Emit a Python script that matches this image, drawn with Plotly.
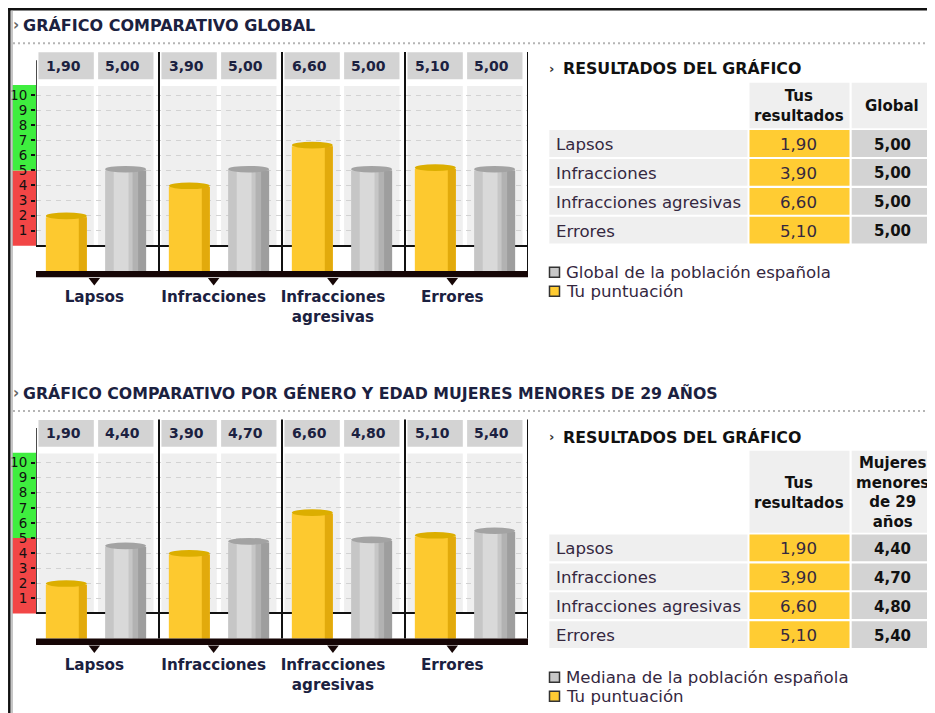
import plotly.graph_objects as go

W, H = 935, 713
FONT = "DejaVu Sans"
PAGE = 8  # the page body margin the figure is placed at

# ---------------- data ----------------
categories = ["Lapsos", "Infracciones", "Infracciones agresivas", "Errores"]
tus_puntuacion = [1.90, 3.90, 6.60, 5.10]
global_poblacion = [5.00, 5.00, 5.00, 5.00]
mediana_mujeres = [4.40, 4.70, 4.80, 5.40]
y_ticks = [1, 2, 3, 4, 5, 6, 7, 8, 9, 10]

chart_titles = ["GRÁFICO COMPARATIVO GLOBAL",
                "GRÁFICO COMPARATIVO POR GÉNERO Y EDAD MUJERES MENORES DE 29 AÑOS"]
table_title = "RESULTADOS DEL GRÁFICO"
table_headers = [["", "Tus<br>resultados", "Global"],
                 ["", "Tus<br>resultados", "Mujeres<br>menores<br>de 29<br>años"]]
legend_labels = [["Global de la población española", "Tu puntuación"],
                 ["Mediana de la población española", "Tu puntuación"]]
comparisons = [global_poblacion, mediana_mujeres]

# ---------------- style / geometry ----------------
NAVY = "#1b2140"
TXT = "#35283f"
YEL, YEL_D, YEL_TOP = "#fdc92f", "#e2aa0c", "#dcae00"
GRY, GRY_D, GRY_L, GRY_TOP = "#c6c6c6", "#9e9e9e", "#d9d9d9", "#a3a3a3"
S = 15.08                    # px per unit
ZERO_PX = [245.8, 613.4]     # pixel row of value 0 in each chart
YR = [-2.6, 13.0]
BASE = -1.67
BW = 0.333
OFF_Y, OFF_G = -0.42, 0.062
PX_L, PX_R = 36, 528
TCOLS = [(549.3, 747.5), (749.5, 849.5), (851.7, 955)]
THEAD = [(82.7, 128.3), (450.7, 532.7)]
ROW_PITCH, ROW_H = 28.9, 26.8


def fx(p):
    return (p - PAGE) / W


def fy(p):
    return 1 - (p - PAGE) / H


def fmt(v):
    return f"{v:.2f}".replace(".", ",")


def bold_lines(h):
    return "<br>".join(f"<b>{p}</b>" for p in h.split("<br>"))


fig = go.Figure()
shapes, annotations = [], []
tick_labels = [c.replace(" ", "<br>") for c in categories]

for k in range(2):
    xa = "x" if k == 0 else "x2"
    ya = "y" if k == 0 else "y2"
    xl = "x3" if k == 0 else "x4"
    comp = comparisons[k]
    z = ZERO_PX[k]
    off = 367.6 * k

    # --- bars (cylinders) ---
    for vals, o, main, dark, top, light in [
        (tus_puntuacion, OFF_Y, YEL, YEL_D, YEL_TOP, None),
        (comp, OFF_G, GRY, GRY_D, GRY_TOP, GRY_L),
    ]:
        fig.add_trace(go.Bar(x=categories, y=[v - BASE for v in vals], base=BASE,
                             offset=o, width=BW, marker=dict(color=main, line=dict(width=0)),
                             xaxis=xa, yaxis=ya, showlegend=False, hoverinfo="skip"))
        if light:
            fig.add_trace(go.Bar(x=categories, y=[v - BASE for v in vals], base=BASE,
                                 offset=o + 0.07, width=0.12, marker=dict(color=light, line=dict(width=0)),
                                 xaxis=xa, yaxis=ya, showlegend=False, hoverinfo="skip"))
            fig.add_trace(go.Bar(x=categories, y=[v - BASE for v in vals], base=BASE,
                                 offset=o + BW - 0.11, width=0.05, marker=dict(color="#b2b2b2", line=dict(width=0)),
                                 xaxis=xa, yaxis=ya, showlegend=False, hoverinfo="skip"))
        fig.add_trace(go.Bar(x=categories, y=[v - BASE for v in vals], base=BASE,
                             offset=o + BW - 0.065, width=0.065, marker=dict(color=dark, line=dict(width=0)),
                             xaxis=xa, yaxis=ya, showlegend=False, hoverinfo="skip"))
        for i, v in enumerate(vals):
            shapes.append(dict(type="circle", xref=xa, yref=ya, x0=i + o, x1=i + o + BW,
                               y0=v - 0.14, y1=v + 0.3, fillcolor=top, line=dict(width=0), layer="above"))

    # --- background panels and value boxes ---
    for i in range(len(categories)):
        for (a, b), vals in [((-0.48, -0.03), tus_puntuacion), ((0.005, 0.455), comp)]:
            shapes.append(dict(type="rect", xref=xa, yref=ya, x0=i + a, x1=i + b, y0=0, y1=10.6,
                               fillcolor="#efefef", line=dict(width=0), layer="below"))
            shapes.append(dict(type="rect", xref=xa, yref=ya, x0=i + a, x1=i + b, y0=11.05, y1=12.83,
                               fillcolor="#d3d3d3", line=dict(width=0), layer="below"))
            annotations.append(dict(xref=xa, yref=ya, x=i + (a + b) / 2, y=11.94, xshift=-3,
                                    text=f"<b>{fmt(vals[i])}</b>", showarrow=False,
                                    font=dict(family=FONT, size=14, color=NAVY)))
    # separators
    for sx in [0.5, 1.5, 2.5, 3.5]:
        shapes.append(dict(type="line", xref=xa, yref=ya, x0=sx, x1=sx, y0=BASE, y1=12.85,
                           line=dict(color="#111", width=2), layer="above"))
    shapes.append(dict(type="line", xref=xa, yref=ya, x0=-0.5, x1=-0.5, y0=0, y1=12.3,
                       line=dict(color="#111", width=1.5), layer="above"))
    # base plate
    shapes.append(dict(type="rect", xref=xa, yref=ya, x0=-0.5, x1=3.5, y0=BASE - 0.42, y1=BASE,
                       fillcolor="#160606", line=dict(width=0), layer="above"))
    # red / green scale strip
    shapes.append(dict(type="rect", xref="paper", yref=ya, x0=fx(12.5), x1=fx(36), y0=0, y1=5,
                       fillcolor="#f24646", line=dict(width=0), layer="below"))
    shapes.append(dict(type="rect", xref="paper", yref=ya, x0=fx(12.5), x1=fx(36), y0=5, y1=10.66,
                       fillcolor="#3fee3f", line=dict(width=0), layer="below"))

    # triangles + category labels
    fig.add_trace(go.Scatter(x=tick_labels, y=[-2.3] * 4, mode="markers",
                             marker=dict(symbol="triangle-down", size=10, color="#160606"),
                             xaxis=xl, yaxis=ya, showlegend=False, hoverinfo="skip", cliponaxis=False))

    # axes
    dom_y = [fy(z + (-YR[0]) * S), fy(z - YR[1] * S)]
    fig.update_layout(**{
        ("xaxis" if k == 0 else "xaxis2"): dict(
            domain=[fx(PX_L), fx(PX_R)], range=[-0.5, 3.5], type="category", anchor=ya,
            showticklabels=False, showgrid=False, zeroline=False, showline=False, ticks="",
            fixedrange=True),
        ("xaxis3" if k == 0 else "xaxis4"): dict(
            domain=[fx(PX_L), fx(PX_R)], range=[-0.489, 3.635], type="category", anchor=ya,
            overlaying=xa, showgrid=False, zeroline=False, showline=False, ticks="",
            tickfont=dict(family=FONT, size=15.2, color=NAVY, weight="bold"),
            ticklabelstandoff=1, fixedrange=True),
        ("yaxis" if k == 0 else "yaxis2"): dict(
            domain=dom_y, range=YR, anchor=xa, tickvals=y_ticks, ticks="outside", ticklen=4,
            tickwidth=1.5, tickcolor="#111", showgrid=True, gridcolor="#d2d2d2", gridwidth=1.3,
            griddash="5px,5px", zeroline=True, zerolinecolor="#111", zerolinewidth=1.5,
            showline=False, tickfont=dict(family=FONT, size=13.5, color="#111"),
            ticklabelstandoff=1, fixedrange=True),
    })

    # titles
    annotations.append(dict(xref="paper", yref="paper", x=fx(11), y=fy(25 + off), xanchor="left",
                            yanchor="middle", text="<b>›</b>", showarrow=False,
                            font=dict(family=FONT, size=15, color="#666")))
    annotations.append(dict(xref="paper", yref="paper", x=fx(21), y=fy(25.5 + off), xanchor="left",
                            yanchor="middle", text=f"<b>{chart_titles[k]}</b>", showarrow=False,
                            font=dict(family=FONT, size=[16, 15.75][k], color=NAVY)))
    shapes.append(dict(type="line", xref="paper", yref="paper", x0=fx(13), x1=1, y0=fy(43.3 + off),
                       y1=fy(43.3 + off), line=dict(color="#b5b5b5", width=2, dash="2px,3px")))

    # ---- results table ----
    tt_y = [68.3, 436.7][k]
    annotations.append(dict(xref="paper", yref="paper", x=fx(547), y=fy(tt_y), xanchor="left",
                            yanchor="middle", text="<b>›</b>", showarrow=False,
                            font=dict(family=FONT, size=13, color="#333")))
    annotations.append(dict(xref="paper", yref="paper", x=fx(561), y=fy(tt_y + 0.5), xanchor="left",
                            yanchor="middle", text=f"<b>{table_title}</b>", showarrow=False,
                            font=dict(family=FONT, size=15.8, color="#111")))
    h0, h1 = THEAD[k]
    # header
    for c, (hx0, hx1) in enumerate(TCOLS):
        if c > 0:
            shapes.append(dict(type="rect", xref="paper", yref="paper", x0=fx(hx0), x1=fx(hx1),
                               y0=fy(h1), y1=fy(h0), fillcolor="#efefef", line=dict(width=0)))
        if table_headers[k][c]:
            annotations.append(dict(xref="paper", yref="paper", x=fx((hx0 + min(hx1, 935)) / 2 - 1),
                                    y=fy((h0 + h1) / 2 + 1), xanchor="center", yanchor="middle",
                                    text=bold_lines(table_headers[k][c]), showarrow=False,
                                    font=dict(family=FONT, size=15, color="#111")))
    # body
    cols_text = [categories, [fmt(v) for v in tus_puntuacion], [f"<b>{fmt(v)}</b>" for v in comp]]
    fills = ["#efefef", "#ffcc33", "#d3d3d3"]
    fonts = [dict(family=FONT, size=16.6, color=TXT), dict(family=FONT, size=16.6, color=TXT),
             dict(family=FONT, size=15, color="#111")]
    for r in range(len(categories)):
        r0 = h1 + 1.8 + r * ROW_PITCH
        r1 = r0 + ROW_H
        for c, (cx0, cx1) in enumerate(TCOLS):
            shapes.append(dict(type="rect", xref="paper", yref="paper", x0=fx(cx0), x1=fx(cx1),
                               y0=fy(r1), y1=fy(r0), fillcolor=fills[c], line=dict(width=0)))
            if c == 0:
                ax, anc = cx0 + 5, "left"
            else:
                ax, anc = (cx0 + min(cx1, 935)) / 2 - 1, "center"
            annotations.append(dict(xref="paper", yref="paper", x=fx(ax), y=fy((r0 + r1) / 2 + 1),
                                    xanchor=anc, yanchor="middle", text=cols_text[c][r],
                                    showarrow=False, font=fonts[c]))

    # ---- legend ----
    leg_y = [[272.3, 291.3], [677.3, 696.3]][k]
    for j, (lab, col) in enumerate(zip(legend_labels[k], ["#c8c8c8", "#ffcc33"])):
        shapes.append(dict(type="rect", xref="paper", yref="paper", x0=fx(549.5), x1=fx(559.5),
                           y0=fy(leg_y[j] + 5), y1=fy(leg_y[j] - 5), fillcolor=col,
                           line=dict(color="#333", width=1.5)))
        annotations.append(dict(xref="paper", yref="paper", x=fx(564), y=fy(leg_y[j]), xanchor="left",
                                yanchor="middle", text=lab, showarrow=False,
                                font=dict(family=FONT, size=16.6, color=TXT)))

# outer frame
shapes.append(dict(type="line", xref="paper", yref="paper", x0=fx(8), x1=1, y0=fy(9.2), y1=fy(9.2),
                   line=dict(color="#111", width=2.5)))
shapes.append(dict(type="line", xref="paper", yref="paper", x0=fx(9.3), x1=fx(9.3), y0=fy(8), y1=0,
                   line=dict(color="#111", width=2.5)))
shapes.append(dict(type="line", xref="paper", yref="paper", x0=fx(12), x1=fx(12), y0=fy(10.5), y1=0,
                   line=dict(color="#a0a0a0", width=1.2)))

fig.update_layout(
    width=W, height=H, autosize=False,
    margin=dict(l=0, r=0, t=0, b=0),
    paper_bgcolor="white", plot_bgcolor="rgba(0,0,0,0)",
    barmode="overlay", showlegend=False,
    shapes=shapes, annotations=annotations,
    font=dict(family=FONT),
)

fig.write_html("out.html")
